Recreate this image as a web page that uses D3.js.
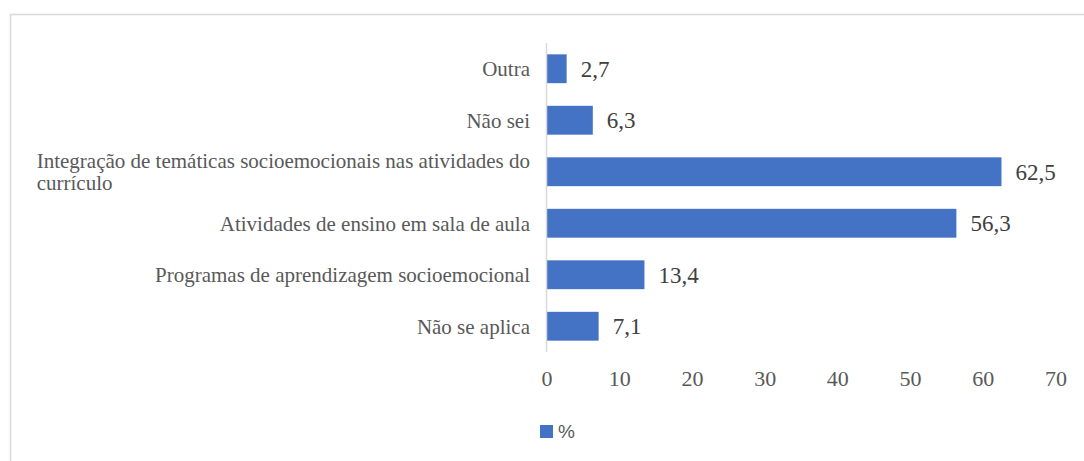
<!DOCTYPE html>
<html>
<head>
<meta charset="utf-8">
<script src="https://unpkg.com/d3@7/dist/d3.min.js"></script>
<style>
  body { margin: 0; background: #fff; }
  svg { display: block; }
</style>
</head>
<body>
<script>
// data
const categories = [
  "Outra",
  "Não sei",
  "Integração de temáticas socioemocionais nas atividades do currículo",
  "Atividades de ensino em sala de aula",
  "Programas de aprendizagem socioemocional",
  "Não se aplica"
];
const values = [2.7, 6.3, 62.5, 56.3, 13.4, 7.1];
const xTicks = [0, 10, 20, 30, 40, 50, 60, 70];
const seriesName = "%";

// layout
const width = 1084;
const height = 461;
const x0 = 547, x1 = 1056;
const yTop = 43, yBottom = 352;
const barColor = "#4472C4";
const serif = "Liberation Serif";
const sans = "Liberation Sans";

const svg = d3.select("body").append("svg")
  .attr("width", width).attr("height", height);

// chart border
svg.append("rect")
  .attr("x", 10.5).attr("y", 14.5)
  .attr("width", width + 10).attr("height", height + 10)
  .attr("fill", "none").attr("stroke", "#d9d9d9").attr("stroke-width", 1.5);

const x = d3.scaleLinear().domain([0, 70]).range([x0, x1]);
const y = d3.scaleBand().domain(categories).range([yTop, yBottom])
  .paddingInner(0.44).paddingOuter(0.22);

// bars
svg.append("g").selectAll("rect")
  .data(values)
  .join("rect")
  .attr("x", x(0))
  .attr("y", (d, i) => y(categories[i]))
  .attr("width", d => x(d) - x(0))
  .attr("height", y.bandwidth())
  .attr("fill", barColor);

// vertical axis line
svg.append("line")
  .attr("x1", x(0) - 0.5).attr("x2", x(0) - 0.5)
  .attr("y1", yTop).attr("y2", yBottom)
  .attr("stroke", "#d9d9d9").attr("stroke-width", 1.5);

// data labels
svg.append("g").selectAll("text")
  .data(values)
  .join("text")
  .attr("x", d => x(d) + 14)
  .attr("y", (d, i) => y(categories[i]) + y.bandwidth() / 2)
  .attr("dy", "0.35em")
  .attr("font-family", serif)
  .attr("font-size", 23)
  .attr("fill", "#404040")
  .text(d => d3.format(".1f")(d).replace(".", ","));

// category labels (wrapped)
const labelRight = 530;
const maxLabelWidth = 505;
const catG = svg.append("g").attr("fill", "#595959");

categories.forEach((c) => {
  const cy = y(c) + y.bandwidth() / 2;
  const t = catG.append("text")
    .attr("font-family", serif)
    .attr("font-size", 21)
    .text(c);
  if (t.node().getComputedTextLength() <= maxLabelWidth) {
    t.attr("x", labelRight).attr("y", cy).attr("dy", "0.35em")
      .attr("text-anchor", "end");
    return;
  }
  // wrap words into lines
  const words = c.split(" ");
  const lines = [];
  let line = [];
  words.forEach((w) => {
    line.push(w);
    t.text(line.join(" "));
    if (t.node().getComputedTextLength() > maxLabelWidth) {
      line.pop();
      lines.push(line.join(" "));
      line = [w];
    }
  });
  lines.push(line.join(" "));
  t.text(lines[0]);
  const w0 = t.node().getComputedTextLength();
  t.text("");
  const lh = 22;
  lines.forEach((l, i) => {
    t.append("tspan")
      .attr("x", labelRight - w0)
      .attr("y", cy + (i - (lines.length - 1) / 2) * lh)
      .attr("dy", "0.35em")
      .text(l);
  });
});

// x axis tick labels
svg.append("g").selectAll("text")
  .data(xTicks)
  .join("text")
  .attr("x", d => x(d))
  .attr("y", 378)
  .attr("dy", "0.35em")
  .attr("text-anchor", "middle")
  .attr("font-family", serif)
  .attr("font-size", 22)
  .attr("fill", "#595959")
  .text(d => d);

// legend
const legend = svg.append("g");
legend.append("rect")
  .attr("x", 540).attr("y", 425)
  .attr("width", 13).attr("height", 13)
  .attr("fill", barColor);
legend.append("text")
  .attr("x", 558).attr("y", 438)
  .attr("font-family", sans)
  .attr("font-size", 19)
  .attr("fill", "#595959")
  .text(seriesName);
</script>
</body>
</html>
